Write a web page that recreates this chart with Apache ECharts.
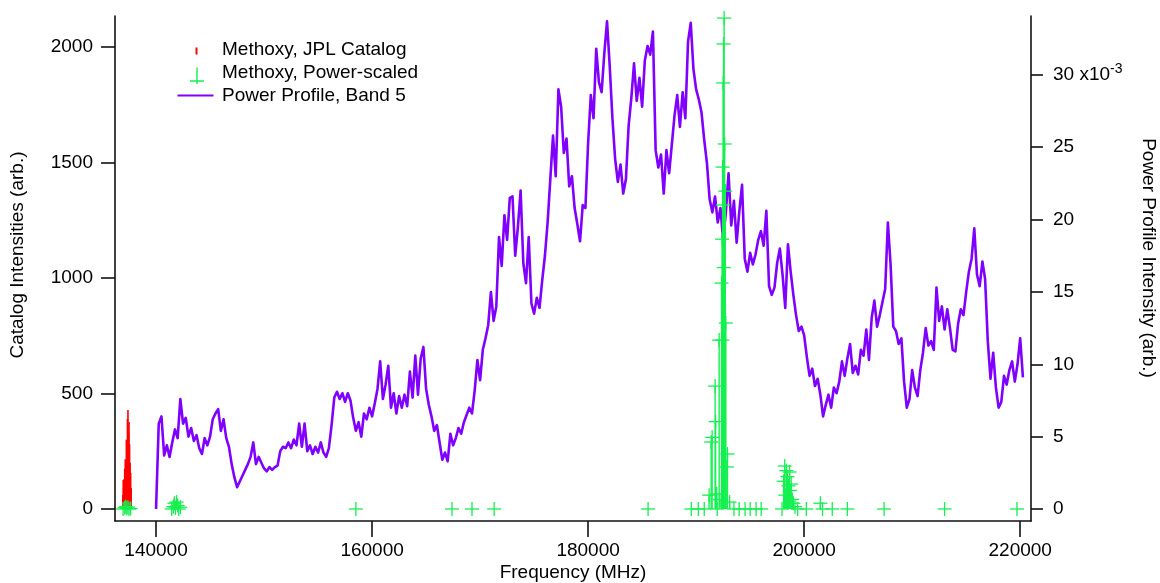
<!DOCTYPE html>
<html>
<head>
<meta charset="utf-8">
<title>Methoxy lines and Band 5 power profile</title>
<script src="https://cdn.jsdelivr.net/npm/echarts@6/dist/echarts.min.js"></script>
<style>
  html, body { margin: 0; padding: 0; background: #ffffff; }
  #chart { width: 1160px; height: 583px; }
</style>
</head>
<body>
<div id="chart"></div>
<script>
// Axis tick positions
const freqTicks = [140000, 160000, 180000, 200000, 220000];
const catalogTicks = [0, 500, 1000, 1500, 2000];
const powerTicks = [0, 5, 10, 15, 20, 25, 30];

// Methoxy lines from the JPL catalog: [frequency (MHz), intensity (arb.)]
const jplLines = [
  [136920, 60], [136960, 125], [137000, 90], [137050, 130], [137100, 175],
  [137150, 215], [137200, 160], [137250, 300], [137300, 250], [137350, 390],
  [137400, 428], [137450, 330], [137500, 377], [137550, 280], [137600, 200],
  [137650, 156], [137700, 90], [141700, 45], [141900, 25]
];

// Methoxy lines scaled by the source power: [frequency (MHz), intensity (arb.)]
const scaledLines = [
  [136950, 0], [137100, 5], [137200, 10], [137300, 3], [137400, 8], [137500, 0], [137650, 2],
  [141450, 0], [141600, 10], [141700, 25], [141800, 5], [141900, 30], [142000, 15], [142100, 0], [142250, 8],
  [158500, 0], [167400, 0], [169250, 0], [171300, 0], [185550, 0],
  [189550, 0], [190200, 0], [190750, 0], [191200, 60], [191390, 290], [191480, 310],
  [191760, 532], [191800, 378], [191900, 65], [191950, 0], [192130, 731], [192200, 40],
  [192350, 978], [192400, 1168], [192430, 731], [192450, 1480], [192480, 1316],
  [192500, 1844], [192540, 2013], [192560, 1045], [192590, 2125], [192640, 1580],
  [192700, 1376], [192750, 805], [192850, 182], [192900, 238], [193100, 30],
  [193500, 0], [193980, 0], [194530, 0], [195000, 0], [195550, 0], [196020, 0],
  [197950, 0], [198100, 120], [198200, 186], [198250, 60], [198350, 166], [198450, 140],
  [198550, 100], [198650, 160], [198700, 80], [198800, 108], [198900, 41], [199000, 25],
  [199150, 10], [199400, 0],
  [200200, 0], [201500, 25], [201700, 0], [202600, 0], [204000, 0], [207400, 0],
  [213000, 0], [219700, 0]
];

// Band 5 power profile, sampled every 250 MHz from 140000 MHz (units of 1e-3, arb.)
const powerStartMHz = 140000;
const powerStepMHz = 250;
const powerProfile = [
  0, 5.9, 6.4, 3.7, 4.4, 3.6, 4.6, 5.5, 4.9, 7.6,
  5.9, 6.3, 5.0, 5.6, 4.7, 5.1, 4.2, 3.8, 4.9, 4.4,
  5.0, 6.2, 6.6, 6.9, 5.4, 6.2, 4.9, 4.3, 3.1, 2.2,
  1.5, 1.9, 2.3, 2.7, 3.1, 3.6, 4.6, 3.1, 3.6, 3.2,
  2.8, 2.6, 2.9, 2.7, 2.9, 3.0, 4.0, 4.3, 4.2, 4.6,
  4.2, 4.8, 4.4, 5.9, 4.3, 5.9, 4.0, 4.4, 3.8, 4.3,
  3.9, 4.6, 3.9, 3.6, 4.2, 5.8, 7.7, 8.1, 7.6, 8.0,
  7.4, 8.0, 7.5, 6.3, 5.4, 6.0, 5.0, 6.6, 6.2, 7.0,
  6.4, 7.3, 8.3, 10.2, 7.6, 8.6, 9.9, 7.0, 8.0, 6.6,
  7.8, 7.0, 7.9, 7.1, 9.5, 7.7, 10.6, 7.9, 10.4, 11.2,
  8.3, 7.2, 6.4, 5.4, 5.8, 4.6, 3.4, 3.9, 3.3, 5.2,
  4.4, 4.9, 5.6, 5.2, 6.0, 6.5, 7.0, 6.6, 8.2, 10.3,
  8.9, 11.0, 11.8, 12.7, 15.0, 13.0, 14.0, 18.8, 16.8, 20.3,
  18.6, 21.5, 21.6, 17.5, 19.5, 22.0, 17.0, 15.6, 18.8, 14.2,
  13.5, 14.6, 13.9, 15.8, 17.5, 19.8, 22.8, 25.8, 23.0, 29.0,
  27.8, 24.6, 25.6, 22.3, 23.0, 20.8, 19.7, 18.5, 21.0, 20.8,
  25.3, 28.6, 27.0, 31.8, 29.5, 28.8, 31.5, 33.7, 30.6, 27.0,
  24.2, 22.6, 23.8, 21.8, 22.8, 26.5, 28.4, 30.8, 28.2, 29.8,
  27.8, 31.0, 32.0, 31.4, 33.0, 24.8, 23.6, 24.5, 21.8, 24.8,
  23.2, 25.2, 27.2, 28.6, 26.4, 28.8, 27.0, 32.3, 33.6, 30.4,
  29.0, 28.3, 27.4, 25.5, 23.9, 21.4, 20.5, 21.6, 19.8, 20.8,
  18.6, 20.5, 23.2, 19.6, 21.3, 18.4, 20.6, 22.4, 17.3, 16.4,
  17.7, 16.9, 17.6, 18.6, 19.2, 18.2, 20.6, 15.4, 14.8, 15.3,
  17.0, 18.0, 16.2, 13.9, 18.3, 16.4, 14.8, 13.4, 12.3, 12.6,
  12.0, 10.5, 9.2, 9.7, 8.5, 9.0, 7.9, 6.4, 7.2, 7.9,
  7.0, 8.4, 8.0, 8.8, 10.2, 9.2, 10.4, 11.4, 9.4, 9.9,
  9.3, 11.0, 10.6, 12.4, 10.3, 13.2, 14.4, 12.6, 13.4, 14.3,
  15.2, 19.8, 16.9, 12.6, 12.3, 11.4, 11.8, 8.8, 7.0, 7.6,
  9.6, 8.4, 7.8, 9.6, 10.8, 12.5, 11.3, 11.6, 11.0, 15.3,
  13.0, 14.0, 12.4, 13.8, 12.5, 11.0, 10.9, 12.8, 13.8, 13.4,
  15.0, 16.4, 17.3, 19.4, 16.2, 15.4, 17.1, 15.9, 11.6, 9.0,
  10.8, 8.4, 7.0, 7.4, 9.2, 8.6, 9.6, 10.2, 8.8, 10.0, 11.8, 9.1
];

const FONT = '"Liberation Sans", Arial, Helvetica, sans-serif';
const RED = '#ff0000';
const GREEN = '#14f050';
const PURPLE = '#8000ff';
const AXIS = '#111111';

const powerData = powerProfile.map((v, i) => [powerStartMHz + i * powerStepMHz, v]);

// Vertical stick from zero up to the line intensity, optionally with a "+" marker on top
function stickRenderer(color, width, crossHalf) {
  return function (params, api) {
    const f = api.value(0);
    const v = api.value(1);
    const base = api.coord([f, 0]);
    const top = api.coord([f, v]);
    const children = [{
      type: 'line',
      shape: { x1: base[0], y1: base[1], x2: top[0], y2: top[1] },
      style: { stroke: color, lineWidth: width }
    }];
    if (crossHalf) {
      children.push({
        type: 'line',
        shape: { x1: top[0] - crossHalf, y1: top[1], x2: top[0] + crossHalf, y2: top[1] },
        style: { stroke: color, lineWidth: 1.3 }
      }, {
        type: 'line',
        shape: { x1: top[0], y1: top[1] - crossHalf, x2: top[0], y2: top[1] + crossHalf },
        style: { stroke: color, lineWidth: 1.3 }
      });
    }
    return { type: 'group', children: children };
  };
}

const plainNumber = function (v) { return String(v); };
const axisLineStyle = { color: AXIS, width: 1.6 };
const labelStyle = { color: '#000', fontSize: 19, fontFamily: FONT };

const chart = echarts.init(document.getElementById('chart'), null, { renderer: 'canvas' });

chart.setOption({
  animation: false,
  backgroundColor: '#ffffff',
  grid: { left: 115, right: 129, top: 16, bottom: 62, containLabel: false },
  legend: {
    orient: 'vertical',
    left: 177,
    top: 38,
    padding: 0,
    itemGap: 0,
    itemWidth: 40,
    itemHeight: 23,
    selectedMode: false,
    itemStyle: { borderWidth: 0 },
    textStyle: { color: '#000', fontSize: 19, fontFamily: FONT, lineHeight: 23 },
    data: [
      { name: 'Methoxy, JPL Catalog', icon: 'path://M0 0M40 23M18.5 9.5h2v7h-2Z' },
      { name: 'Methoxy, Power-scaled', icon: 'path://M0 0M40 23M19.3 6.5h1.4v16.5h-1.4ZM13 19.3h14v1.4h-14Z' },
      { name: 'Power Profile, Band 5', icon: 'path://M0 0M40 23M0.5 10.5h36v2h-36Z' }
    ]
  },
  xAxis: {
    type: 'value',
    min: 136200,
    max: 221000,
    axisLine: { show: true, onZero: false, lineStyle: axisLineStyle },
    axisTick: { show: true, inside: false, length: 16, lineStyle: axisLineStyle, customValues: freqTicks },
    axisLabel: Object.assign({ margin: 20, customValues: freqTicks, formatter: plainNumber }, labelStyle),
    splitLine: { show: false }
  },
  yAxis: [
    {
      type: 'value',
      position: 'left',
      min: -52,
      max: 2134,
      axisLine: { show: true, onZero: false, lineStyle: axisLineStyle },
      axisTick: { show: true, inside: false, length: 14, lineStyle: axisLineStyle, customValues: catalogTicks },
      axisLabel: Object.assign({ margin: 22, customValues: catalogTicks, formatter: plainNumber }, labelStyle),
      splitLine: { show: false }
    },
    {
      type: 'value',
      position: 'right',
      min: -0.83,
      max: 34.07,
      axisLine: { show: true, onZero: false, lineStyle: axisLineStyle },
      axisTick: { show: true, inside: false, length: 12, lineStyle: axisLineStyle, customValues: powerTicks },
      axisLabel: Object.assign({
        margin: 22,
        customValues: powerTicks,
        lineHeight: 26,
        formatter: function (v) { return v === 30 ? '30 x10{sup|-3}' : String(v); },
        rich: { sup: { fontSize: 14, fontFamily: FONT, color: '#000', verticalAlign: 'top', lineHeight: 14 } }
      }, labelStyle),
      splitLine: { show: false }
    }
  ],
  series: [
    {
      name: 'Power Profile, Band 5',
      type: 'line',
      xAxisIndex: 0,
      yAxisIndex: 1,
      data: powerData,
      showSymbol: false,
      symbol: 'none',
      color: PURPLE,
      itemStyle: { color: PURPLE },
      lineStyle: { color: PURPLE, width: 2.6, join: 'round' },
      z: 2
    },
    {
      name: 'Methoxy, JPL Catalog',
      type: 'custom',
      xAxisIndex: 0,
      yAxisIndex: 0,
      encode: { x: 0, y: 1 },
      data: jplLines,
      itemStyle: { color: RED },
      renderItem: stickRenderer(RED, 1.6, 0),
      z: 3
    },
    {
      name: 'Methoxy, Power-scaled',
      type: 'custom',
      xAxisIndex: 0,
      yAxisIndex: 0,
      encode: { x: 0, y: 1 },
      data: scaledLines,
      itemStyle: { color: GREEN },
      renderItem: stickRenderer(GREEN, 1.4, 7),
      z: 4
    }
  ],
  graphic: [
    {
      type: 'text',
      x: 18, y: 255,
      rotation: Math.PI / 2,
      style: { text: 'Catalog Intensities (arb.)', fill: '#000', fontSize: 19, fontFamily: FONT, align: 'center', verticalAlign: 'middle' }
    },
    {
      type: 'text',
      x: 1148, y: 258,
      rotation: -Math.PI / 2,
      style: { text: 'Power Profile Intensity (arb.)', fill: '#000', fontSize: 19, fontFamily: FONT, align: 'center', verticalAlign: 'middle' }
    },
    {
      type: 'text',
      x: 573, y: 573,
      style: { text: 'Frequency (MHz)', fill: '#000', fontSize: 19, fontFamily: FONT, align: 'center', verticalAlign: 'middle' }
    }
  ]
});
</script>
</body>
</html>
